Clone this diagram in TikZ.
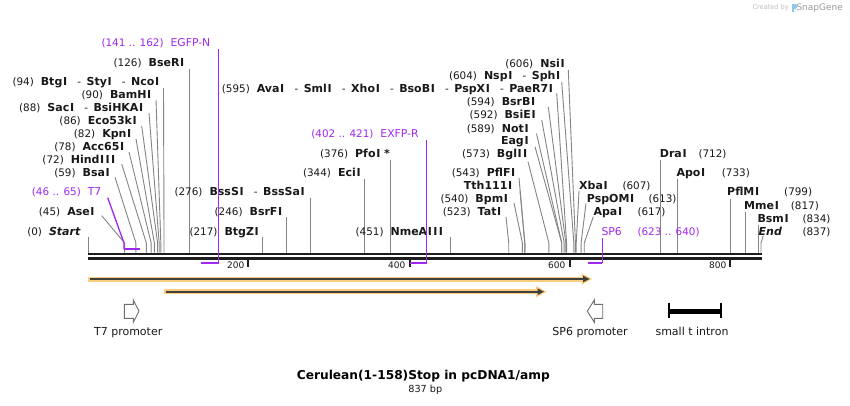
\documentclass[tikz,border=0pt]{standalone}
\usepackage{fontspec}
\setmainfont{DejaVu Sans}
\definecolor{txt}{RGB}{25,25,25}
\definecolor{prim}{RGB}{160,40,240}
\definecolor{siteg}{RGB}{132,132,132}
\definecolor{bbc}{RGB}{30,30,30}
\definecolor{feat}{RGB}{252,205,125}
\definecolor{featc}{RGB}{64,64,64}
\definecolor{promo}{RGB}{110,110,110}
\definecolor{wm}{RGB}{190,190,190}
\definecolor{wmg}{RGB}{155,155,155}
\definecolor{wmb}{RGB}{140,200,235}
\newcommand\Nf[1]{{\fontsize{10.4}{12}\selectfont\mdseries #1}}
\newcommand\En[1]{{\fontsize{11}{12}\selectfont\bfseries #1}}
\newcommand\Pn[1]{{\fontsize{10.8}{12}\selectfont #1}}
\newcommand\Ii{\hspace{0.7pt}I\hspace{0.7pt}}
\newcommand\Gp{\hspace{7pt}}
\newcommand\Dh{\hspace{9.5pt}\Nf{-}\hspace{5.5pt}}
\newcommand\SX[1]{88.5+0.8035*#1}
\newcommand\Lsite[7]{%
  \node[lbl,anchor=base east] (#1) at (#3+1.3,#4+4) {#2};
  \coordinate (#1s) at ({#5},#6);
  \coordinate (#1b) at ({\SX{#7}},243);
  \coordinate (#1e) at ({\SX{#7}},252.5);
  \draw[siteln] (#1s) -- (#1b) -- (#1e);}
\newcommand\Rsite[9]{%
  \node[lbl,anchor=base west] (#1) at (#3-0.8,#4+4) {\En{#2}};
  \node[lbl,anchor=base west] (#1n) at (#5-0.8,#4+4) {\Nf{#6}};
  \coordinate (#1s) at ({#7},#8);
  \coordinate (#1b) at ({\SX{#9}},243);
  \coordinate (#1e) at ({\SX{#9}},252.5);
  \draw[siteln] (#1s) -- (#1b) -- (#1e);}
\begin{document}
\begin{tikzpicture}[x=1pt,y=-1pt,
  lbl/.style={inner sep=0pt,outer sep=0pt,text=txt},
  siteln/.style={draw=siteg,line width=0.9pt},
  primln/.style={draw=prim,line width=1.3pt},
  primbar/.style={draw=prim,line width=1.9pt},
  bbline/.style={draw=bbc},
  tickst/.style={draw=bbc,line width=2pt},
  ticklbl/.style={inner sep=0pt,text=txt,font=\fontsize{9}{11}\selectfont,anchor=base east},
  featlbl/.style={inner sep=0pt,text=txt,font=\fontsize{11}{13}\selectfont,anchor=base},
  promost/.style={draw=promo,line width=0.9pt,fill=white,line join=miter}]
\useasboundingbox (0,0) rectangle (850,405);
\fill[white] (0,0) rectangle (850,405);

% ---- left group
\Lsite{bseri}{\Nf{(126)}\Gp\En{BseR\Ii}}{183}{62.3}{\SX{126}}{69}{126}
\Lsite{btgi}{\Nf{(94)}\Gp\En{Btg\Ii}\Dh\En{Sty\Ii}\Dh\En{Nco\Ii}}{158}{81}{163.5}{88}{94}
\Lsite{bamhi}{\Nf{(90)}\Gp\En{BamH\Ii}}{150}{94}{156}{100}{90}
\Lsite{saci}{\Nf{(88)}\Gp\En{Sac\Ii}\Dh\En{BsiHKA\Ii}}{142}{107.3}{149}{113}{88}
\Lsite{eco}{\Nf{(86)}\Gp\En{Eco53k\Ii}}{135.5}{120}{141.7}{126}{86}
\Lsite{kpni}{\Nf{(82)}\Gp\En{Kpn\Ii}}{130}{133.3}{136}{139}{82}
\Lsite{acc}{\Nf{(78)}\Gp\En{Acc65\Ii}}{123}{146.7}{129}{152}{78}
\Lsite{hind}{\Nf{(72)}\Gp\En{Hind\Ii\Ii\Ii}}{114}{159}{121.7}{164}{72}
\Lsite{bsai}{\Nf{(59)}\Gp\En{Bsa\Ii}}{108.5}{172.3}{115}{177.3}{59}
\Lsite{asei}{\Nf{(45)}\Gp\En{Ase\Ii}}{93.3}{211.3}{101.7}{215.7}{45}
\Lsite{start}{\Nf{(0)}\Gp\En{\itshape Start}}{79}{231}{\SX{0}}{237}{0}
% ---- middle group
\Lsite{btgzi}{\Nf{(217)}\Gp\En{BtgZ\Ii}}{257.5}{231}{\SX{217}}{237}{217}
\Lsite{bsrfi}{\Nf{(246)}\Gp\En{BsrF\Ii}}{281}{211.3}{\SX{246}}{217}{246}
\Lsite{bsssi}{\Nf{(276)}\Gp\En{BssS\Ii}\Dh\En{BssSa\Ii}}{303.5}{191.5}{\SX{276}}{198}{276}
\Lsite{ecii}{\Nf{(344)}\Gp\En{Eci\Ii}}{359.3}{172.3}{\SX{344}}{179}{344}
\Lsite{pfoi}{\Nf{(376)}\Gp\En{Pfo\Ii\hspace{3pt}*}}{388.5}{153.3}{\SX{376}}{159.5}{376}
\Lsite{nme}{\Nf{(451)}\Gp\En{NmeA\Ii\Ii\Ii}}{441.7}{231.7}{\SX{451}}{237.3}{451}
\Lsite{ava}{\Nf{(595)}\Gp\En{Ava\Ii}\Dh\En{Sml\Ii}\Dh\En{Xho\Ii}\Dh\En{BsoB\Ii}\Dh\En{PspX\Ii}\Dh\En{PaeR7\Ii}}{551.7}{88.3}{556.7}{93}{595}
% ---- right cluster (labels left of sites)
\Lsite{nsii}{\Nf{(606)}\Gp\En{Nsi\Ii}}{563.3}{63.3}{568.3}{70}{606}
\Lsite{nspi}{\Nf{(604)}\Gp\En{Nsp\Ii}\Dh\En{Sph\Ii}}{559}{75.3}{561.7}{82}{604}
\Lsite{bsrbi}{\Nf{(594)}\Gp\En{BsrB\Ii}}{534}{101.7}{548.3}{107}{594}
\Lsite{bsiei}{\Nf{(592)}\Gp\En{BsiE\Ii}}{534.3}{114.7}{541.7}{120}{592}
\Lsite{noti}{\Nf{(589)}\Gp\En{Not\Ii}}{527.3}{128}{536.5}{133.5}{589}
\Lsite{eagi}{\En{Eag\Ii}}{527.3}{140.3}{535}{146.7}{589}
\Lsite{bglii}{\Nf{(573)}\Gp\En{Bgl\Ii\Ii}}{526}{153.3}{528}{161.7}{573}
\Lsite{pflfi}{\Nf{(543)}\Gp\En{PflF\Ii}}{514}{172.5}{519}{178}{543}
\Lsite{tth}{\En{Tth111\Ii}}{511}{185}{520}{190.7}{543}
\Lsite{bpmi}{\Nf{(540)}\Gp\En{Bpm\Ii}}{506.7}{198.3}{514}{203}{540}
\Lsite{tati}{\Nf{(523)}\Gp\En{Tat\Ii}}{500}{211.7}{506}{217}{523}
% ---- right-side labels
\Rsite{xbai}{Xba\Ii}{580}{185}{623.3}{(607)}{579}{190.7}{607}
\Rsite{pspomi}{PspOM\Ii}{587.7}{198.3}{649.3}{(613)}{586}{203.5}{613}
\Rsite{apai}{Apa\Ii}{594.3}{211.7}{638.3}{(617)}{593.3}{216.7}{617}
\Rsite{drai}{Dra\Ii}{660.7}{153.3}{699.3}{(712)}{\SX{712}}{160}{712}
\Rsite{apoi}{Apo\Ii}{677.3}{172.3}{722.7}{(733)}{\SX{733}}{178.5}{733}
\Rsite{pflmi}{PflM\Ii}{728}{191.8}{785}{(799)}{\SX{799}}{199}{799}
\Rsite{mmei}{Mme\Ii}{745}{205.2}{791.7}{(817)}{\SX{817}}{211.5}{817}
\Rsite{bsmi}{Bsm\Ii}{758.3}{218}{803.3}{(834)}{\SX{834}}{224.5}{834}
\Rsite{endp}{\itshape End}{759.5}{231}{803.3}{(837)}{763.3}{235.5}{837}

% ---- backbone
\coordinate (bbL1) at (88.3,254); \coordinate (bbR1) at (761.7,254);
\coordinate (bbL2) at (88.3,258.4); \coordinate (bbR2) at (761.7,258.4);
\draw[bbline,line width=2.8pt] (bbL1) -- (bbR1);
\draw[bbline,line width=3.2pt] (bbL2) -- (bbR2);

% ---- ticks
\foreach \tx/\lx/\tl in {248/244.6/200, 409.5/405.6/400, 569.5/565.6/600, 729.5/726.6/800}{
  \coordinate (tk\tl a) at (\tx,258.5);
  \coordinate (tk\tl b) at (\tx,266.7);
  \draw[tickst] (tk\tl a) -- (tk\tl b);
  \node[ticklbl] (tkl\tl) at (\lx,268.3) {\tl};
}

% ---- primers
\node[lbl,text=prim,anchor=base east] (t7l) at (101.3,195.7) {\Nf{(46 .. 65)}\Gp\Pn{T7}};
\coordinate (t7s) at (107.7,197.7); \coordinate (t7b) at (124,243);
\coordinate (t7a) at (124,249.3); \coordinate (t7z) at (139.5,249.3);
\draw[primln] (t7s) -- (t7b) -- (t7a);
\draw[primbar] (t7a) -- (t7z);

\node[lbl,text=prim,anchor=base east] (egl) at (210.3,46) {\Nf{(141 .. 162)}\Gp\Pn{EGFP-N}};
\coordinate (egs) at (218.6,49); \coordinate (ega) at (218.6,262.7); \coordinate (egz) at (201,262.7);
\draw[primln] (egs) -- (ega);
\draw[primbar] (ega) -- (egz);

\node[lbl,text=prim,anchor=base east] (exl) at (418.6,137.3) {\Nf{(402 .. 421)}\Gp\Pn{EXFP-R}};
\coordinate (exs) at (426.7,140); \coordinate (exa) at (426.7,262.7); \coordinate (exz) at (409.5,262.7);
\draw[primln] (exs) -- (exa);
\draw[primbar] (exa) -- (exz);

\node[lbl,text=prim,anchor=base west] (spl) at (601.5,235) {\Pn{SP6}};
\node[lbl,text=prim,anchor=base west] (spn) at (637.5,235) {\Nf{(623 .. 640)}};
\coordinate (sps) at (602.3,238); \coordinate (spa) at (602.3,262.7); \coordinate (spz) at (588.3,262.7);
\draw[primln] (sps) -- (spa);
\draw[primbar] (spa) -- (spz);

% ---- features
\coordinate (f1s) at (88.3,279); \coordinate (f1e) at (584,279);
\draw[feat,line width=5pt] (f1s) -- (f1e);
\fill[feat] (581.5,273.3) -- (592,279) -- (581.5,284.7) -- cycle;
\draw[featc,line width=1.9pt] (90,279) -- (f1e);
\fill[featc] (583,275.6) -- (589.5,279) -- (583,282.4) -- cycle;

\coordinate (f2s) at (164.3,291.7); \coordinate (f2e) at (538.5,291.7);
\draw[feat,line width=5pt] (f2s) -- (f2e);
\fill[feat] (536,286) -- (546.5,291.7) -- (536,297.4) -- cycle;
\draw[featc,line width=1.9pt] (166,291.7) -- (f2e);
\fill[featc] (537.5,288.3) -- (544,291.7) -- (537.5,295.1) -- cycle;

% T7 promoter
\draw[promost] (124.3,304.3) -- (133.3,304.3) -- (133.3,300) -- (139,311.2) -- (133.3,322.3) -- (133.3,318.3) -- (124.3,318.3) -- cycle;
\node[featlbl] (t7p) at (128.2,335) {T7 promoter};
% SP6 promoter
\draw[promost] (602.7,304.3) -- (594.3,304.3) -- (594.3,300) -- (587.3,311.2) -- (594.3,322.3) -- (594.3,318.3) -- (602.7,318.3) -- cycle;
\node[featlbl] (sp6p) at (590,335) {SP6 promoter};
% small t intron
\coordinate (inL) at (668.3,311.3); \coordinate (inR) at (721.7,311.3);
\draw[black,line width=5pt] (inL) -- (inR);
\draw[black,line width=1.6pt] (669.1,303.3) -- (669.1,318.3);
\draw[black,line width=1.6pt] (720.9,303.3) -- (720.9,318.3);
\node[featlbl] (intr) at (692,335) {small t intron};

% ---- title
\node[inner sep=0pt,text=black,font=\fontsize{12.2}{14}\selectfont\bfseries,anchor=base] (title) at (423.3,379.4) {Cerulean(1-158)Stop in pcDNA1/amp};
\node[inner sep=0pt,text=txt,font=\fontsize{9.7}{11}\selectfont,anchor=base] (bp) at (425.3,392.6) {837 bp};

% ---- watermark
\node[inner sep=0pt,text=wm,font=\fontsize{6.6}{8}\selectfont,anchor=base west] (wm1) at (752.3,9.2) {Created by};
\fill[wmb] (791.8,4) rectangle (793.6,12);
\fill[wmb] (793.6,4) -- (795.5,4) .. controls (797.6,4) and (797.6,9) .. (795.5,9) -- (793.6,9) -- cycle;
\node[inner sep=0pt,text=wmg,font=\fontsize{9}{11}\selectfont,anchor=base west] (wm2) at (796.3,10.2) {SnapGene};
\end{tikzpicture}
\end{document}
